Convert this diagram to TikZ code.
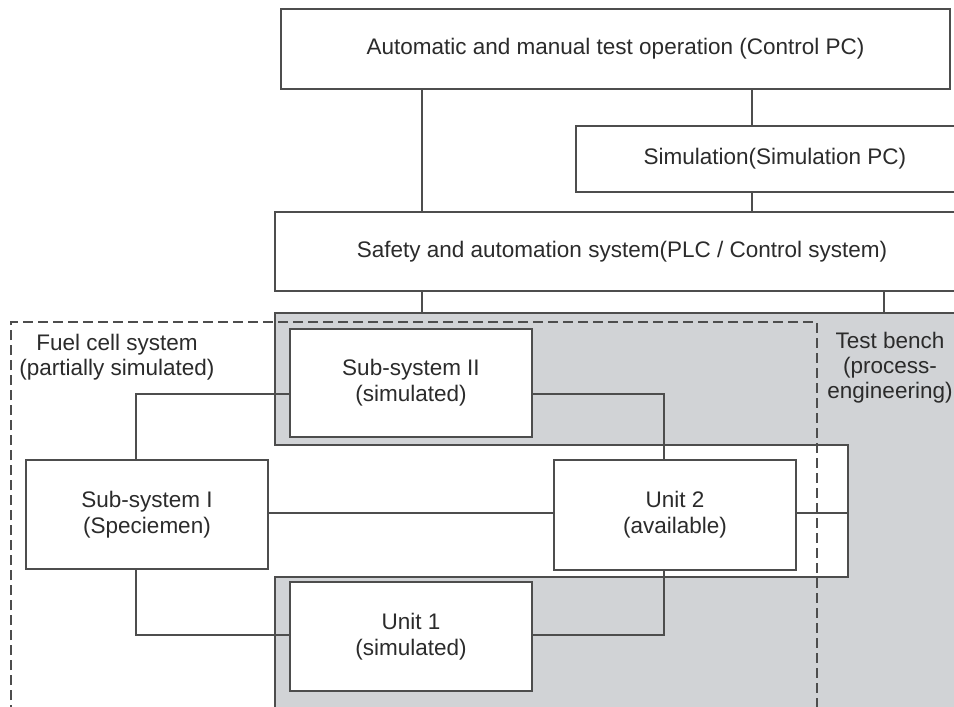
\documentclass[tikz,border=0pt]{standalone}
\usepackage{fontspec}
\setmainfont{Liberation Sans}
\definecolor{ln}{HTML}{4D4D4D}
\definecolor{tx}{HTML}{2B2B2B}
\definecolor{gfill}{HTML}{D1D3D6}
\begin{document}
\begin{tikzpicture}[x=1pt,y=-1pt,
  box/.style={draw=ln, line width=1.5pt, fill=white, rectangle, inner sep=0pt, align=center, text=tx, font=\fontsize{22.5}{26}\selectfont},
  conn/.style={draw=ln, line width=1.5pt},
  lbl/.style={align=center, text=tx, inner sep=0pt, font=\fontsize{22.5}{25}\selectfont},
  dashbox/.style={draw=ln, line width=1.5pt, dash pattern=on 10pt off 5pt}]
\useasboundingbox (0,0) rectangle (954,707);
\clip (0,0) rectangle (954,707);
\fill[white] (0,0) rectangle (954,707);
% grey test bench region with white notch
\draw[conn, fill=gfill] (275,313) -- (1000,313) -- (1000,760) -- (275,760) -- (275,577) -- (848,577) -- (848,445) -- (275,445) -- cycle;
% dashed fuel cell system border
\draw[dashbox] (11,760) -- (11,322) -- (817,322) -- (817,760);
% boxes
\node[box, minimum width=669pt, minimum height=80pt] (top) at (615.5,49) {Automatic and manual test operation (Control PC)};
\node[box, minimum width=398pt, minimum height=66pt] (sim) at (775,159) {Simulation(Simulation PC)};
\node[box, minimum width=694pt, minimum height=79pt] (safe) at (622,251.5) {Safety and automation system(PLC / Control system)};
\node[box, minimum width=242pt, minimum height=108pt] (sub2) at (411,383) {Sub-system II\\(simulated)};
\node[box, minimum width=242pt, minimum height=109pt] (sub1) at (147,514.5) {Sub-system I\\(Speciemen)};
\node[box, minimum width=242pt, minimum height=110pt] (unit2) at (675,515) {Unit 2\\(available)};
\node[box, minimum width=242pt, minimum height=109pt] (unit1) at (411,636.5) {Unit 1\\(simulated)};
% labels
\node[lbl] (fuel) at (117,357) {Fuel cell system\\(partially simulated)};
\node[lbl] (bench) at (890,368) {Test bench\\(process-\\engineering)};
% helper coordinates
\coordinate (gtop) at (0,313);
\coordinate (notch) at (848,0);
\coordinate (xa) at (422,0);
\coordinate (xb) at (752,0);
\coordinate (xc) at (884,0);
\coordinate (c1) at (136,394);
\coordinate (c2) at (664,394);
\coordinate (c3) at (136,635);
\coordinate (cm) at (0,513);
% connectors
\draw[conn] (top.south -| xa) -- (safe.north -| xa);
\draw[conn] (top.south -| xb) -- (sim.north -| xb);
\draw[conn] (sim.south -| xb) -- (safe.north -| xb);
\draw[conn] (safe.south -| xa) -- (gtop -| xa);
\draw[conn] (safe.south -| xc) -- (gtop -| xc);
\draw[conn] (sub2.west |- c1) -| (sub1.north -| c1);
\draw[conn] (sub2.east |- c1) -| (unit2.north -| c2);
\draw[conn] (sub1.east |- cm) -- (unit2.west |- cm);
\draw[conn] (sub1.south -| c3) |- (unit1.west |- c3);
\draw[conn] (unit1.east |- c3) -| (unit2.south -| c2);
\draw[conn] (unit2.east |- cm) -- (notch |- cm);
\end{tikzpicture}
\end{document}
